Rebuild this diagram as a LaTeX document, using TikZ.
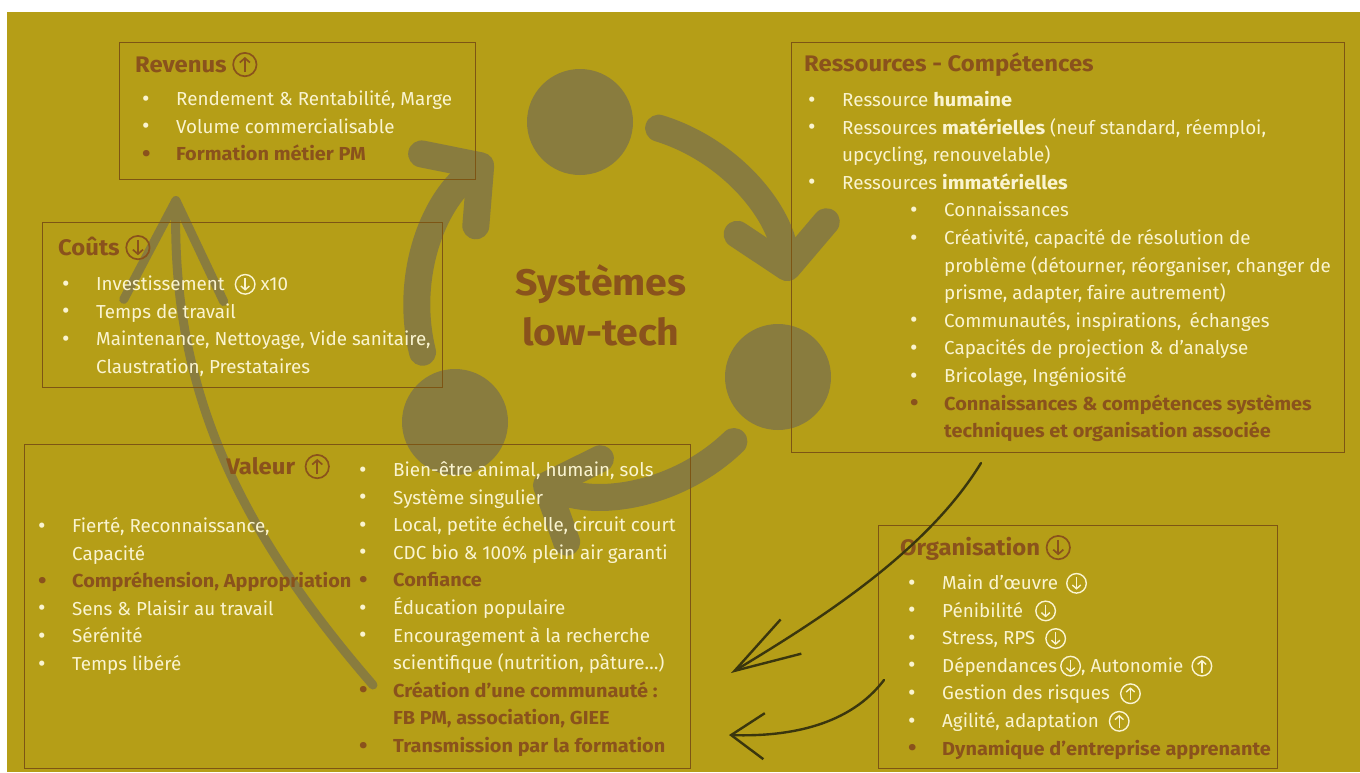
\documentclass[tikz,border=0pt]{standalone}
\usepackage{fontspec}
\setmainfont{Fira Sans}[BoldFeatures={FakeStretch=1.06}]
\usetikzlibrary{arrows.meta,positioning}

\definecolor{bgolive}{RGB}{181,158,23}
\definecolor{boxline}{RGB}{125,85,20}
\definecolor{tbrown}{RGB}{138,82,28}
\definecolor{tcream}{RGB}{250,244,208}
\definecolor{cycgray}{RGB}{137,124,62}
\definecolor{inkdark}{RGB}{58,54,14}

\tikzstyle{panel}=[rectangle, draw=boxline, line width=0.8pt, anchor=north west, inner sep=0pt]
\tikzstyle{ptitle}=[anchor=base west, inner sep=0pt, text=tbrown, font=\fontsize{22.5}{26}\selectfont\bfseries]
\tikzstyle{plist}=[anchor=north west, inner sep=0pt, align=left, text=tcream, font=\fontsize{18.8}{27.6}\selectfont]
\tikzstyle{cycarc}=[draw=cycgray, line width=27pt, line cap=round, -{Straight Barb[round,length=40pt,width=90pt]}]
\tikzstyle{cycdot}=[circle, fill=cycgray, minimum size=106pt, inner sep=0pt]
\tikzstyle{handarrow}=[draw=inkdark, line width=2.4pt, line cap=round]

% list lines
\newcommand{\itm}[1]{\makebox[34pt][l]{\raisebox{-0.5pt}{\fontsize{23}{27.6}\selectfont\textbullet}}#1}
\newcommand{\cnt}[1]{\hspace*{34pt}#1}
\newcommand{\bitm}[1]{{\color{tbrown}\bfseries\itm{#1}}}
\newcommand{\sitm}[1]{\hspace*{102pt}\itm{#1}}
\newcommand{\scnt}[1]{\hspace*{136pt}#1}
% circled arrows
\newcommand{\arrup}{\tikz[x=1pt,y=1pt,baseline=-0.33em,line width=0.075em]{\draw (0,0) circle[radius=0.52em]; \draw[-{Straight Barb[length=0.2em,width=0.45em]}] (0,-0.34em) -- (0,0.34em);}}
\newcommand{\arrdn}{\tikz[x=1pt,y=1pt,baseline=-0.33em,line width=0.075em]{\draw (0,0) circle[radius=0.52em]; \draw[-{Straight Barb[length=0.2em,width=0.45em]}] (0,0.34em) -- (0,-0.34em);}}
\newcommand{\panelbox}[5]{\node[panel, minimum width=#4pt, minimum height=#5pt] (#1) at (#2,#3) {};}

\begin{document}
\begin{tikzpicture}[x=1pt,y=-1pt]

\useasboundingbox (0,0) rectangle (1360,772);
\fill[bgolive] (7,12) rectangle (1360,772);

% cycle
\coordinate (hub) at (604,307);
\node[cycdot] (c1) at (580,122) {};
\node[cycdot] (c2) at (778,377) {};
\node[cycdot] (c3) at (455,422) {};
\draw[cycarc] (hub) ++(-73:187) arc[start angle=-73, end angle=-8, radius=187];
\draw[cycarc] (hub) ++(46:187) arc[start angle=46, end angle=112, radius=187];
\draw[cycarc] (hub) ++(-194:187) arc[start angle=-194, end angle=-127, radius=187];

\coordinate (gtail) at (373,685);
\coordinate (ghead) at (176,196);
\draw[cycgray, line width=9pt, line cap=round, -{Straight Barb[round,length=100pt,width=100pt]}] (gtail) .. controls (230,520) and (172,380) .. (ghead);

\node[font=\fontsize{37}{50}\selectfont\bfseries, text=tbrown, align=center] (sys) at (601,305) {Systèmes\\low-tech};

% panels
\panelbox{rev}{119}{42}{356}{137}
\panelbox{cou}{42}{222}{400}{165}
\panelbox{res}{791}{42}{553}{410}
\panelbox{val}{24}{444}{666}{324}
\panelbox{org}{878}{525}{399}{243}

\node[ptitle] (revT) at (135,72) {Revenus \arrup};
\node[plist] (revL) at (142,86) {\strut\itm{Rendement \& Rentabilité, Marge}\\
\itm{Volume commercialisable}\\
\bitm{Formation métier PM}};

\node[ptitle] (couT) at (58,255) {Coûts \arrdn};
\node[plist] (couL) at (62,271) {\strut\itm{Investissement\hspace{10pt}\arrdn{} x10}\\
\itm{Temps de travail}\\
\itm{Maintenance, Nettoyage, Vide sanitaire,}\\
\cnt{Claustration, Prestataires}};

\node[ptitle] (resT) at (804,71) {Ressources - Compétences};
\node[plist] (resL) at (808,87) {\strut\itm{Ressource \textbf{humaine}}\\
\itm{Ressources \textbf{matérielles} (neuf standard, réemploi,}\\
\cnt{upcycling, renouvelable)}\\
\itm{Ressources \textbf{immatérielles}}\\
\sitm{Connaissances}\\
\sitm{Créativité, capacité de résolution de}\\
\scnt{problème (détourner, réorganiser, changer de}\\
\scnt{prisme, adapter, faire autrement)}\\
\sitm{Communautés, inspirations,\, échanges}\\
\sitm{Capacités de projection \& d’analyse}\\
\sitm{Bricolage, Ingéniosité}\\
{\color{tbrown}\bfseries\sitm{Connaissances \& compétences systèmes}}\\
{\color{tbrown}\bfseries\scnt{techniques et organisation associée}}};

\node[ptitle, anchor=base east] (valT) at (330,474) {Valeur \hspace{4pt}\arrup};
\node[plist] (valL) at (38,513) {\strut\itm{Fierté, Reconnaissance,}\\
\cnt{Capacité}\\
\bitm{Compréhension, Appropriation}\\
\itm{Sens \& Plaisir au travail}\\
\itm{Sérénité}\\
\itm{Temps libéré}};
\node[plist] (valR) at (359,457) {\strut\itm{Bien-être animal, humain, sols}\\
\itm{Système singulier}\\
\itm{Local, petite échelle, circuit court}\\
\itm{CDC bio \& 100\% plein air garanti}\\
\bitm{Confiance}\\
\itm{Éducation populaire}\\
\itm{Encouragement à la recherche}\\
\cnt{scientifique (nutrition, pâture…)}\\
\bitm{Création d’une communauté :}\\
{\color{tbrown}\bfseries\cnt{FB PM, association, GIEE}}\\
\bitm{Transmission par la formation}};

\node[ptitle] (orgT) at (900,555) {Organisation \arrdn};
\node[plist] (orgL) at (908,570) {\strut\itm{Main d’œuvre\hspace{8pt}\arrdn}\\
\itm{Pénibilité\hspace{12pt}\arrdn}\\
\itm{Stress, RPS\hspace{10pt}\arrdn}\\
\itm{Dépendances\hspace{3pt}\arrdn, Autonomie\hspace{8pt}\arrup}\\
\itm{Gestion des risques\hspace{10pt}\arrup}\\
\itm{Agilité, adaptation\hspace{10pt}\arrup}\\
\bitm{Dynamique d’entreprise apprenante}};

% hand drawn arrows
\coordinate (h1s) at (981,463);
\coordinate (h1e) at (731,673);
\coordinate (h2s) at (884,680);
\coordinate (h2e) at (729,735);
\draw[handarrow, -{Straight Barb[length=66pt,width=40pt]}] (h1s) .. controls (925,555) and (810,625) .. (h1e);
\draw[handarrow, -{Straight Barb[length=33pt,width=46pt]}] (h2s) .. controls (850,725) and (790,737) .. (h2e);

\end{tikzpicture}
\end{document}
